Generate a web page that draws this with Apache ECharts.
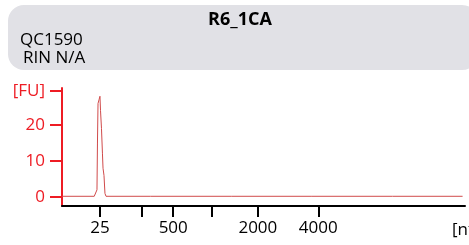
<!DOCTYPE html>
<html>
<head>
<meta charset="utf-8">
<script src="https://cdn.jsdelivr.net/npm/echarts@6/dist/echarts.min.js"></script>
<style>
  html, body { margin: 0; padding: 0; background: #fff; }
  #chart { width: 469px; height: 245px; }
</style>
</head>
<body>
<div id="chart"></div>
<script>
// electropherogram data (migration time [s] vs fluorescence [FU])
let trace_time = [19, 23.0, 23.22, 23.34, 23.40, 23.47, 23.59, 23.71, 23.78, 23.90, 24.02, 24.09, 24.21, 24.33, 24.46, 30, 40, 50, 60, 68.7];
let trace_fu   = [0.2, 0.2, 0.3, 2, 15, 26, 27, 28, 24, 19, 12, 8, 6, 1, 0.2, 0.2, 0.2, 0.2, 0.2, 0.2];

// ladder ticks on the x axis (time position and label)
let ladder_nt    = [25, 200, 500, 1000, 2000, 4000];
let ladder_time  = [23.7, 28.9, 32.8, 37.6, 43.3, 50.8];
let ladder_label = ['25', '', '500', '', '2000', '4000'];

// y ticks
let y_ticks  = [0, 10, 20, 29.4];
let y_labels = ['0', '10', '20', '[FU]'];

const FONT = 'Open Sans';

let chart = echarts.init(document.getElementById('chart'));

let x_label_values = [];
ladder_time.forEach((t, i) => {
    if (ladder_label[i] !== '') x_label_values.push(t);
});

let option = {
    animation: false,
    graphic: [
        {
            type: 'rect',
            shape: { x: 8, y: 5, width: 470, height: 65, r: 16 },
            style: { fill: '#e1e1e6' },
            z: 0
        },
        {
            type: 'text',
            style: { x: 240, y: 20, text: 'R6_1CA', fill: '#000', font: 'bold 18px "' + FONT + '"', align: 'center', verticalAlign: 'middle' },
            z: 1
        },
        {
            type: 'text',
            style: { x: 20, y: 40, text: 'QC1590', fill: '#000', font: '17px "' + FONT + '"', align: 'left', verticalAlign: 'middle' },
            z: 1
        },
        {
            type: 'text',
            style: { x: 23, y: 58, text: 'RIN N/A', fill: '#000', font: '17px "' + FONT + '"', align: 'left', verticalAlign: 'middle' },
            z: 1
        }
    ],
    grid: { left: 62, right: 4, top: 88, bottom: 39, containLabel: false, outerBoundsMode: 'none' },
    xAxis: {
        type: 'value',
        min: 19,
        max: 69,
        name: '[nt]',
        nameLocation: 'end',
        nameGap: -13,
        nameTextStyle: {
            color: '#000',
            fontSize: 17,
            fontFamily: FONT,
            verticalAlign: 'top',
            padding: [16, 0, 0, 0]
        },
        splitLine: { show: false },
        axisLine: { onZero: false, lineStyle: { color: '#000', width: 2 } },
        axisTick: { customValues: ladder_time, length: 11, lineStyle: { color: '#000', width: 2 } },
        axisLabel: {
            customValues: x_label_values,
            margin: 14,
            color: '#000',
            fontSize: 17,
            fontFamily: FONT,
            formatter: function (v) {
                let i = ladder_time.indexOf(v);
                return i >= 0 ? ladder_label[i] : '';
            }
        }
    },
    yAxis: {
        type: 'value',
        min: -2.5,
        max: 30.3,
        splitLine: { show: false },
        axisLine: { lineStyle: { color: '#ee1c24', width: 2 } },
        axisTick: { customValues: y_ticks, length: 12, lineStyle: { color: '#ee1c24', width: 2 } },
        axisLabel: {
            customValues: y_ticks,
            margin: 17,
            color: '#ee1c24',
            fontSize: 17,
            fontFamily: FONT,
            formatter: function (v) {
                let i = y_ticks.indexOf(v);
                return i >= 0 ? y_labels[i] : '';
            }
        }
    },
    series: [{
        type: 'line',
        data: trace_time.map((t, i) => [t, trace_fu[i]]),
        showSymbol: false,
        lineStyle: { color: '#d04a4a', width: 1 },
        z: 3
    }]
};

chart.setOption(option);
</script>
</body>
</html>
